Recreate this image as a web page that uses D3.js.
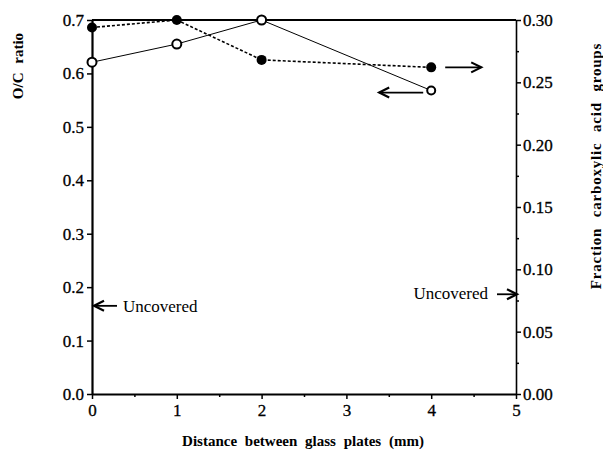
<!DOCTYPE html>
<html>
<head>
<meta charset="utf-8">
<script src="https://cdn.jsdelivr.net/npm/d3@7"></script>
<style>
  body { margin: 0; background: #fff; }
  text { font-family: "Liberation Serif", "Times New Roman", serif; }
</style>
</head>
<body>
<div id="chart"></div>
<script>
// data
let distances = [0, 1, 2, 4];
let ocRatio = [0.621, 0.655, 0.700, 0.568];          // open circles, left axis
let carboxylFraction = [0.294, 0.300, 0.268, 0.262]; // filled circles, right axis
let uncoveredOC = 0.165;
let uncoveredFraction = 0.080;
let leftTicks = [0, 0.1, 0.2, 0.3, 0.4, 0.5, 0.6, 0.7];
let rightTicks = [0, 0.05, 0.10, 0.15, 0.20, 0.25, 0.30];
let xTicks = [0, 1, 2, 3, 4, 5];

let W = 603, H = 452;
let margin = {top: 20, right: 87, bottom: 58, left: 92};

let svg = d3.select("#chart").append("svg")
    .attr("width", W).attr("height", H);

let x = d3.scaleLinear().domain([0, 5]).range([margin.left, W - margin.right]);
let yL = d3.scaleLinear().domain([0, 0.7]).range([H - margin.bottom, margin.top]);
let yR = d3.scaleLinear().domain([0, 0.3]).range([H - margin.bottom, margin.top]);

// top frame line
svg.append("line")
    .attr("x1", x(0)).attr("x2", x(5))
    .attr("y1", yL(0.7)).attr("y2", yL(0.7))
    .attr("stroke", "#000").attr("stroke-width", 2);

function styleAxis(g, w) {
    g.select(".domain").attr("stroke-width", w);
    g.selectAll(".tick line").attr("stroke-width", 1.5);
    g.selectAll(".tick text").attr("font-size", 17).attr("fill", "#000")
        .attr("stroke", "#000").attr("stroke-width", 0.3);
}

// left axis
let gl = svg.append("g")
    .attr("transform", "translate(" + x(0) + ",0)")
    .call(d3.axisLeft(yL).tickValues(leftTicks).tickFormat(d3.format(".1f"))
        .tickSize(5).tickSizeOuter(0).tickPadding(3));
styleAxis(gl, 2.2);

// right axis with minor ticks
let gr = svg.append("g")
    .attr("transform", "translate(" + x(5) + ",0)")
    .call(d3.axisRight(yR).tickValues(rightTicks).tickFormat(d3.format(".2f"))
        .tickSize(5).tickSizeOuter(0).tickPadding(2));
styleAxis(gr, 1.6);
svg.append("g")
    .attr("transform", "translate(" + x(5) + ",0)")
    .call(d3.axisRight(yR).tickValues(d3.range(0.025, 0.3, 0.05)).tickFormat("")
        .tickSize(3).tickSizeOuter(0))
    .call(g => g.select(".domain").remove())
    .selectAll("line").attr("stroke-width", 1.5);

// bottom axis with minor ticks
let gb = svg.append("g")
    .attr("transform", "translate(0," + yL(0) + ")")
    .call(d3.axisBottom(x).tickValues(xTicks).tickFormat(d3.format("d"))
        .tickSize(5).tickSizeOuter(0).tickPadding(5));
styleAxis(gb, 2.2);
svg.append("g")
    .attr("transform", "translate(0," + yL(0) + ")")
    .call(d3.axisBottom(x).tickValues([0.5, 1.5, 2.5, 3.5, 4.5]).tickFormat("")
        .tickSize(3).tickSizeOuter(0))
    .call(g => g.select(".domain").remove())
    .selectAll("line").attr("stroke-width", 1.5);

// series lines
let lineOC = d3.line().x((d, i) => x(distances[i])).y(d => yL(d));
let lineFr = d3.line().x((d, i) => x(distances[i])).y(d => yR(d));

svg.append("path").datum(carboxylFraction)
    .attr("d", lineFr).attr("fill", "none")
    .attr("stroke", "#000").attr("stroke-width", 1.6)
    .attr("stroke-dasharray", "3,2");

svg.append("path").datum(ocRatio)
    .attr("d", lineOC).attr("fill", "none")
    .attr("stroke", "#000").attr("stroke-width", 1);

svg.selectAll(".fill-pt").data(carboxylFraction).enter()
    .append("circle").attr("class", "fill-pt")
    .attr("cx", (d, i) => x(distances[i])).attr("cy", d => yR(d))
    .attr("r", 5).attr("fill", "#000");

svg.selectAll(".open-pt").data(ocRatio).enter()
    .append("circle").attr("class", "open-pt")
    .attr("cx", (d, i) => x(distances[i])).attr("cy", d => yL(d))
    .attr("r", (d, i) => i == 3 ? 4 : 4.5)
    .attr("fill", "#fff").attr("stroke", "#000").attr("stroke-width", 2);

// arrows
function arrow(x1, y1, x2, y2) {
    let dir = Math.sign(x2 - x1);
    svg.append("line")
        .attr("x1", x1).attr("y1", y1).attr("x2", x2).attr("y2", y2)
        .attr("stroke", "#000").attr("stroke-width", 1.8);
    svg.append("path")
        .attr("d", "M" + (x2 - dir * 10) + "," + (y1 - 5) + " L" + x2 + "," + y2 +
            " L" + (x2 - dir * 10) + "," + (y1 + 5))
        .attr("fill", "none").attr("stroke", "#000").attr("stroke-width", 2.2);
}

let last = distances.length - 1;
arrow(x(4) + 14, yR(carboxylFraction[last]), x(4) + 50, yR(carboxylFraction[last]));
arrow(x(4) - 8, yL(ocRatio[last]) + 2, x(4) - 52, yL(ocRatio[last]) + 2);

arrow(x(0) + 25, yL(uncoveredOC), x(0) + 2, yL(uncoveredOC));
svg.append("text")
    .attr("x", x(0) + 31).attr("y", yL(uncoveredOC) + 6)
    .attr("font-size", 17).text("Uncovered");

arrow(x(5) - 19, yR(uncoveredFraction), x(5) + 1, yR(uncoveredFraction));
svg.append("text")
    .attr("x", x(5) - 28).attr("y", yR(uncoveredFraction) + 5)
    .attr("text-anchor", "end")
    .attr("font-size", 17).text("Uncovered");

// axis titles
svg.append("text")
    .attr("transform", "translate(23,66) rotate(-90)")
    .attr("text-anchor", "middle")
    .attr("font-size", 15).attr("font-weight", "bold")
    .attr("word-spacing", 5)
    .text("O/C ratio");

svg.append("text")
    .attr("transform", "translate(601,166) rotate(-90)")
    .attr("text-anchor", "middle")
    .attr("font-size", 15).attr("font-weight", "bold")
    .attr("letter-spacing", 0.8).attr("word-spacing", 6)
    .text("Fraction carboxylic acid groups");

svg.append("text")
    .attr("x", 303).attr("y", 446)
    .attr("text-anchor", "middle")
    .attr("font-size", 15).attr("font-weight", "bold")
    .attr("word-spacing", 4)
    .text("Distance between glass plates (mm)");
</script>
</body>
</html>
